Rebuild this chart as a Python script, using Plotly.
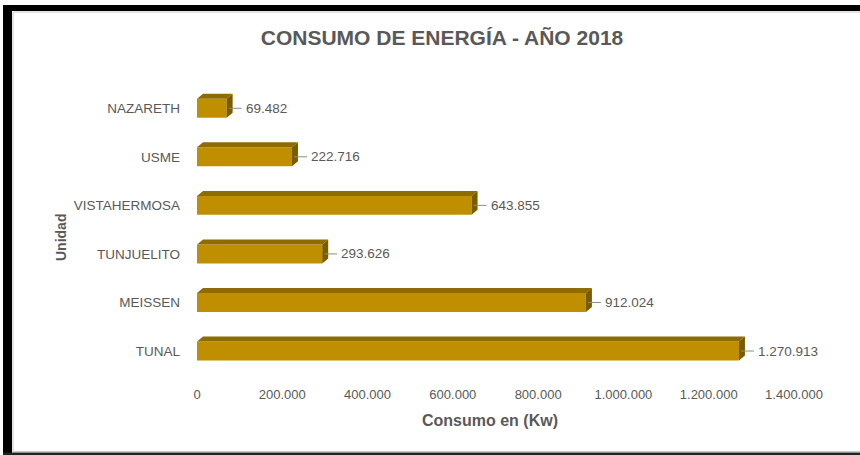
import plotly.graph_objects as go

# Data (bottom to top, as Excel plots it)
UNIDADES = ["TUNAL", "MEISSEN", "TUNJUELITO", "VISTAHERMOSA", "USME", "NAZARETH"]
CONSUMO = [1270913, 912024, 293626, 643855, 222716, 69482]
X_TICKS = [0, 200000, 400000, 600000, 800000, 1000000, 1200000, 1400000]

FRONT = "#BF8F00"
TOP = "#8F6C00"
SIDE = "#7A5C00"
TXT = "#595959"
FONT = "Liberation Sans, Arial, sans-serif"

W_PX, H_PX = 860, 455
L, T, PW, PH = 197, 84, 597, 301
X_MAX = 1400000
Y_RANGE = [-0.7, 5.5]

HW = 0.195                       # half bar thickness (category units)
DX = 6 * X_MAX / PW              # 3D depth, horizontal (data units)
DY = 5 * (Y_RANGE[1] - Y_RANGE[0]) / PH  # 3D depth, vertical


def px_x(px):
    return (px - L) / PW


def px_y(py):
    return 1 - (py - T) / PH


def fmt(v):
    return f"{v:,}".replace(",", ".")


ys = list(range(len(UNIDADES)))

fig = go.Figure()
fig.add_trace(go.Bar(
    x=CONSUMO, y=ys, orientation="h", width=2 * HW,
    marker=dict(color=FRONT, line=dict(width=0)),
    showlegend=False, hoverinfo="skip",
))

# top and side faces of the pseudo-3D bars
tx, ty, sx, sy = [], [], [], []
for v, y in zip(CONSUMO, ys):
    tx += [0, v, v + DX, DX, 0, None]
    ty += [y + HW, y + HW, y + HW + DY, y + HW + DY, y + HW, None]
    sx += [v, v, v + DX, v + DX, v, None]
    sy += [y - HW, y + HW, y + HW + DY, y - HW + DY, y - HW, None]
fig.add_trace(go.Scatter(x=tx, y=ty, mode="none", fill="toself", fillcolor=TOP,
                         showlegend=False, hoverinfo="skip"))
fig.add_trace(go.Scatter(x=sx, y=sy, mode="none", fill="toself", fillcolor=SIDE,
                         showlegend=False, hoverinfo="skip"))

annotations = []
for v, y in zip(CONSUMO, ys):
    annotations.append(dict(
        x=v, y=y, xref="x", yref="y", text=fmt(v),
        showarrow=True, arrowhead=0, arrowwidth=1, arrowcolor="#8c8c8c",
        ax=15, ay=0, standoff=2, xanchor="left", borderpad=3,
        font=dict(family=FONT, size=13.5, color=TXT),
    ))

annotations.append(dict(
    x=px_x(490), y=px_y(420), xref="paper", yref="paper",
    xanchor="center", yanchor="middle",
    text="<b>Consumo en (Kw)</b>", showarrow=False,
    font=dict(family=FONT, size=16, color=TXT),
))
annotations.append(dict(
    x=px_x(61), y=px_y(238), xref="paper", yref="paper",
    xanchor="center", yanchor="middle",
    text="<b>Unidad</b>", textangle=-90, showarrow=False,
    font=dict(family=FONT, size=14, color=TXT),
))

shapes = [
    # inner chart-area border
    dict(type="rect", xref="paper", yref="paper",
         x0=px_x(13), x1=px_x(861), y0=px_y(451.5), y1=px_y(12),
         line=dict(color="#c8c8c8", width=1), fillcolor="rgba(0,0,0,0)", layer="below"),
    # black frame: top, left, bottom
    dict(type="rect", xref="paper", yref="paper",
         x0=px_x(3), x1=px_x(861), y0=px_y(11), y1=px_y(5),
         line=dict(width=0), fillcolor="#000000"),
    dict(type="rect", xref="paper", yref="paper",
         x0=px_x(3), x1=px_x(12), y0=px_y(455), y1=px_y(5),
         line=dict(width=0), fillcolor="#000000"),
    dict(type="rect", xref="paper", yref="paper",
         x0=px_x(3), x1=px_x(861), y0=px_y(455), y1=px_y(452.5),
         line=dict(width=0), fillcolor="#222222"),
]

fig.update_layout(
    width=W_PX, height=H_PX,
    margin=dict(l=L, r=W_PX - L - PW, t=T, b=H_PX - T - PH, autoexpand=False),
    paper_bgcolor="#ffffff", plot_bgcolor="#ffffff",
    separators=",.",
    font=dict(family=FONT, size=13, color=TXT),
    title=dict(
        text="<b>CONSUMO DE ENERGÍA - AÑO 2018</b>",
        x=442 / W_PX, xref="container", xanchor="center",
        y=1 - 38 / H_PX, yref="container", yanchor="middle",
        font=dict(family=FONT, size=21, color=TXT),
    ),
    xaxis=dict(
        range=[0, X_MAX], tickvals=X_TICKS, tickformat=",d",
        showgrid=False, zeroline=False, showline=False, ticks="",
        tickfont=dict(family=FONT, size=13, color=TXT),
        automargin=False,
    ),
    yaxis=dict(
        range=Y_RANGE, tickvals=ys, ticktext=UNIDADES,
        showgrid=False, zeroline=False, showline=False, ticks="",
        ticklabelstandoff=16,
        tickfont=dict(family=FONT, size=13.5, color=TXT),
        automargin=False,
    ),
    bargap=0.6,
    annotations=annotations,
    shapes=shapes,
)

fig.write_html("out.html", config={"displayModeBar": False},
               post_script="document.body.style.margin='0';")
